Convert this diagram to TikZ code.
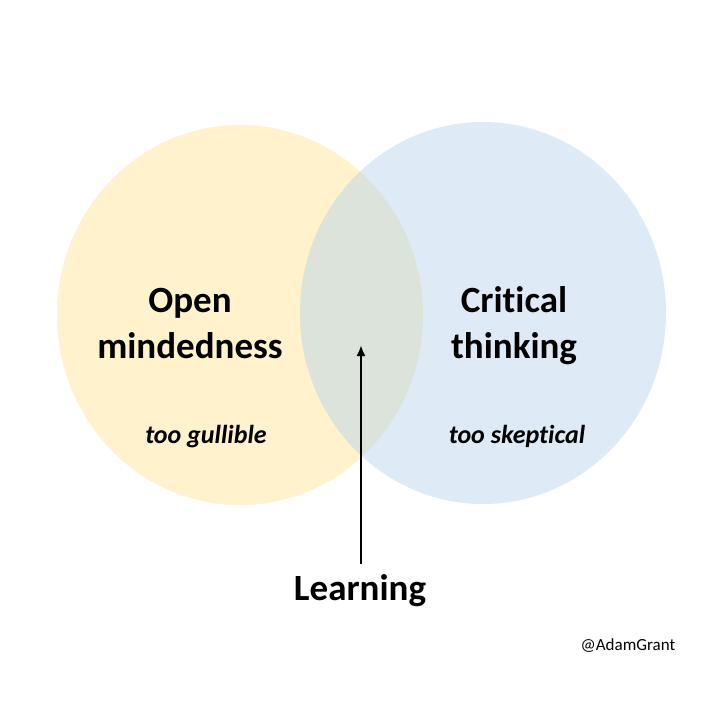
\documentclass[tikz,border=0pt]{standalone}
\usepackage{fontspec}
\usetikzlibrary{arrows.meta}
\setmainfont{Carlito}[Ligatures={NoCommon}]
\definecolor{openfill}{HTML}{FFF2CC}
\definecolor{critfill}{HTML}{DEEBF7}
\definecolor{bothfill}{HTML}{DCE3DB}
\begin{document}
\begin{tikzpicture}[x=1pt,y=-1pt,
  biglabel/.style={font=\fontsize{37}{46}\selectfont\bfseries, align=center, inner sep=0pt},
  note/.style={font=\fontsize{26}{30}\selectfont\bfseries\itshape, inner sep=0pt, anchor=base},
  ]
\useasboundingbox (0,0) rectangle (720,720);
\fill[white] (0,0) rectangle (720,720);
\fill[openfill] (240,315) ellipse [x radius=183, y radius=190];
\fill[critfill] (483,313) ellipse [x radius=183, y radius=191];
\begin{scope}
  \clip (240,315) ellipse [x radius=183, y radius=190];
  \fill[bothfill] (483,313) ellipse [x radius=183, y radius=191];
\end{scope}
\node[biglabel, anchor=base] (open) at (190,358) {Open\\mindedness};
\node[biglabel, anchor=base] (crit) at (514,358) {Critical\\thinking};
\node[note] (gull) at (206,443) {too gullible};
\node[note] (skep) at (517,443) {too skeptical};
\node[font=\fontsize{37}{44}\selectfont\bfseries, inner sep=0pt, anchor=base] (learn) at (360,600) {Learning};
\coordinate (tail) at (361,564);
\coordinate (tip) at (361,345);
\draw[line width=2.8pt, -{Latex[length=11pt,width=9pt]}] (tail) -- (tip);
\node[font=\fontsize{17}{20}\selectfont, inner sep=0pt, anchor=base] (tag) at (628,650) {@AdamGrant};
\end{tikzpicture}
\end{document}
